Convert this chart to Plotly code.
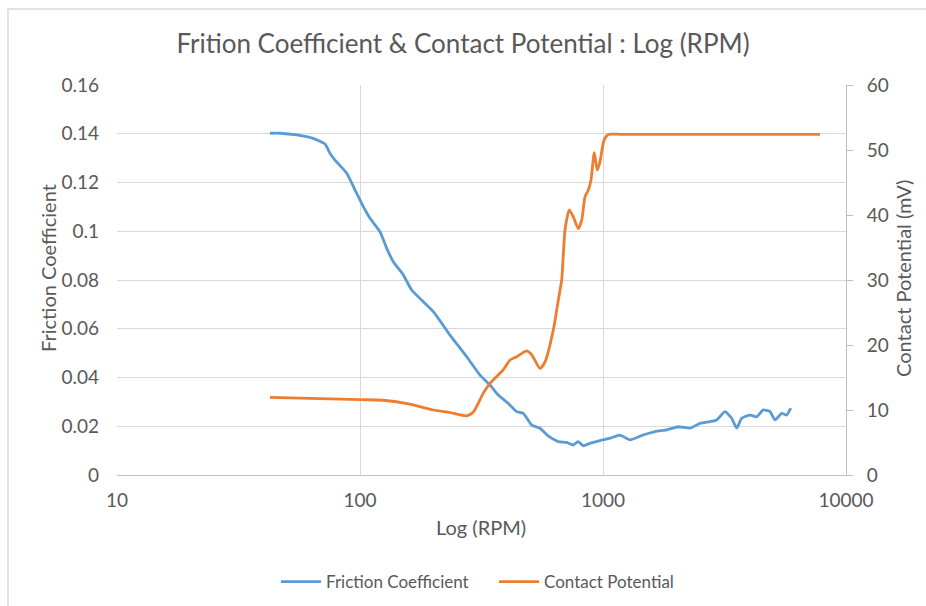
import plotly.graph_objects as go

# ---- data ----
fric_rpm = [42.6, 46.9, 54.9, 64.1, 71.8, 75.2, 78.9, 88.2, 95.4, 103.2, 110.0, 120.9,
            128.8, 137.1, 150.7, 163.2, 200.3, 234.7, 274.8, 311.7, 342.8, 370.8,
            407.6, 441.6, 469.9, 508.9, 550.6, 595.6, 654.6, 708.8, 754.6, 789.1,
            829.8, 884.1, 971.9, 1068.6, 1174.9, 1291.5, 1461, 1637, 1829, 2041,
            2280, 2507, 2756, 2938, 3177, 3385, 3549, 3723, 4027, 4290, 4567,
            4867, 5104, 5441, 5702, 5923]
fric_val = [0.1402, 0.1402, 0.1395, 0.1381, 0.1358, 0.1320, 0.1292, 0.1238, 0.1169,
            0.1101, 0.1053, 0.0998, 0.0930, 0.0875, 0.0821, 0.0759, 0.0670, 0.0574,
            0.0485, 0.0410, 0.0369, 0.0328, 0.0294, 0.0260, 0.0253, 0.0205, 0.0192,
            0.0160, 0.0137, 0.0134, 0.0123, 0.0137, 0.0120, 0.0130, 0.0141, 0.0151,
            0.0164, 0.0144, 0.0164, 0.0178, 0.0185, 0.0198, 0.0192, 0.0212, 0.0219,
            0.0226, 0.0260, 0.0233, 0.0192, 0.0233, 0.0246, 0.0239, 0.0267, 0.0260,
            0.0226, 0.0253, 0.0246, 0.0274]

pot_rpm = [42.6, 100, 124.7, 160.6, 200.3, 234.7, 274.8, 292.7, 321.7, 342.8, 388.8,
           414.4, 441.6, 485.3, 508.9, 550.6, 577.3, 624.4, 654.6, 676, 697.7, 726.6,
           754.6, 791.4, 817.2, 843.2, 870.0, 892.5, 920.9, 947.4, 971.9, 1009.5,
           1051.5, 1200, 2000, 4000, 7816]
pot_val = [11.95, 11.6, 11.5, 10.9, 10.0, 9.6, 9.1, 9.7, 12.6, 14.1, 16.2, 17.7,
           18.2, 19.1, 18.5, 16.4, 17.4, 22.3, 26.9, 30.0, 37.7, 40.8, 39.7, 37.9,
           39.2, 42.8, 43.8, 45.4, 49.6, 46.9, 48.2, 51.5, 52.4, 52.4, 52.4, 52.4, 52.4]

x_ticks = [10, 100, 1000, 10000]
x_labels = ["10", "100", "1000", "10000"]
y1_ticks = [0, 0.02, 0.04, 0.06, 0.08, 0.1, 0.12, 0.14, 0.16]
y1_labels = ["0", "0.02", "0.04", "0.06", "0.08", "0.1", "0.12", "0.14", "0.16"]
y2_ticks = [0, 10, 20, 30, 40, 50, 60]

BLUE = "#5B9BD5"
ORANGE = "#ED7D31"
TXT = "#595959"
GRID = "#D9D9D9"
FONT = "Lato"

fig = go.Figure()
fig.add_trace(go.Scatter(x=fric_rpm, y=fric_val, name="Friction Coefficient",
                         mode="lines", line=dict(color=BLUE, width=2.8, shape="spline", smoothing=0.5),
                         yaxis="y"))
fig.add_trace(go.Scatter(x=pot_rpm, y=pot_val, name="Contact Potential",
                         mode="lines", line=dict(color=ORANGE, width=2.8, shape="spline", smoothing=0.6),
                         yaxis="y2"))

L, R, T, B = 117, 80, 85, 131
W, H = 926, 606
pw, ph = W - L - R, H - T - B

def px2x(px):
    return (px - L) / pw

def py2y(py):
    return (H - B - py) / ph

fig.update_layout(
    width=W, height=H,
    margin=dict(l=L, r=R, t=T, b=B, autoexpand=False),
    paper_bgcolor="white", plot_bgcolor="white",
    font=dict(family=FONT, size=19, color=TXT),
    title=dict(text="Frition Coefficient & Contact Potential : Log (RPM)",
               x=0.5, xanchor="center", y=1 - 44 / H, yanchor="middle",
               font=dict(size=26, color=TXT, family=FONT)),
    xaxis=dict(type="log", range=[1, 4], tickvals=x_ticks, ticktext=x_labels,
               showgrid=True, gridcolor=GRID, gridwidth=1,
               showline=True, linecolor="#BFBFBF", linewidth=1,
               ticks="", ticklabelstandoff=8, zeroline=False,
               tickfont=dict(size=19, color=TXT)),
    yaxis=dict(range=[0, 0.16], tickvals=y1_ticks, ticktext=y1_labels,
               showgrid=True, gridcolor=GRID, gridwidth=1,
               showline=False, ticks="", ticklabelstandoff=17, zeroline=False,
               tickfont=dict(size=19, color=TXT)),
    yaxis2=dict(range=[0, 60], tickvals=y2_ticks, overlaying="y", side="right",
                showgrid=False, showline=True, linecolor="#BFBFBF", linewidth=1,
                ticks="outside", ticklen=6, tickcolor="#BFBFBF",
                ticklabelstandoff=10, zeroline=False,
                tickfont=dict(size=19, color=TXT)),
    showlegend=True,
    legend=dict(orientation="h", x=px2x(276), xanchor="left",
                y=py2y(582), yanchor="middle",
                font=dict(size=17, color=TXT), itemwidth=40,
                entrywidth=163, entrywidthmode="pixels",
                bgcolor="rgba(0,0,0,0)"),
)

fig.add_annotation(text="Log (RPM)", xref="paper", yref="paper",
                   x=px2x(481), y=py2y(527), showarrow=False,
                   font=dict(size=20, color=TXT), xanchor="center", yanchor="middle")
fig.add_annotation(text="Friction Coefficient", xref="paper", yref="paper",
                   x=px2x(48), y=py2y(268), showarrow=False, textangle=-90,
                   font=dict(size=20, color=TXT), xanchor="center", yanchor="middle")
fig.add_annotation(text="Contact Potential (mV)", xref="paper", yref="paper",
                   x=px2x(903), y=py2y(279), showarrow=False, textangle=-90,
                   font=dict(size=20, color=TXT), xanchor="center", yanchor="middle")

# chart border (light grey frame)
fig.add_shape(type="rect", xref="paper", yref="paper",
              x0=px2x(8), x1=px2x(940), y0=py2y(620), y1=py2y(9),
              line=dict(color="#D9D9D9", width=1.5), fillcolor="rgba(0,0,0,0)", layer="below")

fig.write_html("out.html", config={"displayModeBar": False},
               post_script="document.body.style.margin='0';document.body.style.padding='0';document.body.style.overflow='hidden';")
